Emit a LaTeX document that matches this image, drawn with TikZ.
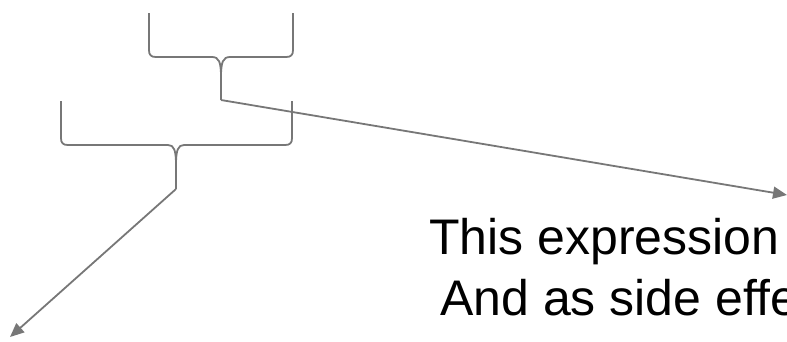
\documentclass[tikz,border=0pt]{standalone}
\usepackage{fontspec}
\setmainfont{Liberation Sans}
\usetikzlibrary{arrows.meta}
\definecolor{lngray}{HTML}{777777}
\tikzset{
  ln/.style={draw=lngray, line width=1.8pt, line join=round},
  arr/.style={ln, -{Triangle[length=14pt,width=12pt]}},
  bigtext/.style={inner sep=0pt, anchor=base west, font=\fontsize{50}{61}\selectfont, text=black}
}
\begin{document}
\begin{tikzpicture}[x=1pt,y=-1pt]
\useasboundingbox (0,0) rectangle (787,341);
% upper brace
\draw[ln] (149,13) -- (149,50) .. controls (149,55) and (151,57) .. (156,57) -- (212,57)
  .. controls (219,57) and (221,62) .. (221,77)
  .. controls (221,62) and (223,57) .. (230,57) -- (286,57)
  .. controls (291,57) and (293,55) .. (293,50) -- (293,13);
\draw[ln] (221,77) -- (221,100) coordinate (t1);
% lower brace
\draw[ln] (61,101) -- (61,138) .. controls (61,143) and (63,145) .. (68,145) -- (168,145)
  .. controls (174,145) and (176,150) .. (176,165)
  .. controls (176,150) and (178,145) .. (184,145) -- (285,145)
  .. controls (290,145) and (292,143) .. (292,138) -- (292,101);
\draw[ln] (176,165) -- (176,189) coordinate (t2);
% text
\node[bigtext] (line1) at (429,254) {This expression};
\node[bigtext] (line2) at (440,315) {And as side effe};
% arrows
\coordinate (e1) at (787,195);
\coordinate (e2) at (10,337);
\draw[arr] (t1) -- (e1);
\draw[arr] (t2) -- (e2);
\end{tikzpicture}
\end{document}
